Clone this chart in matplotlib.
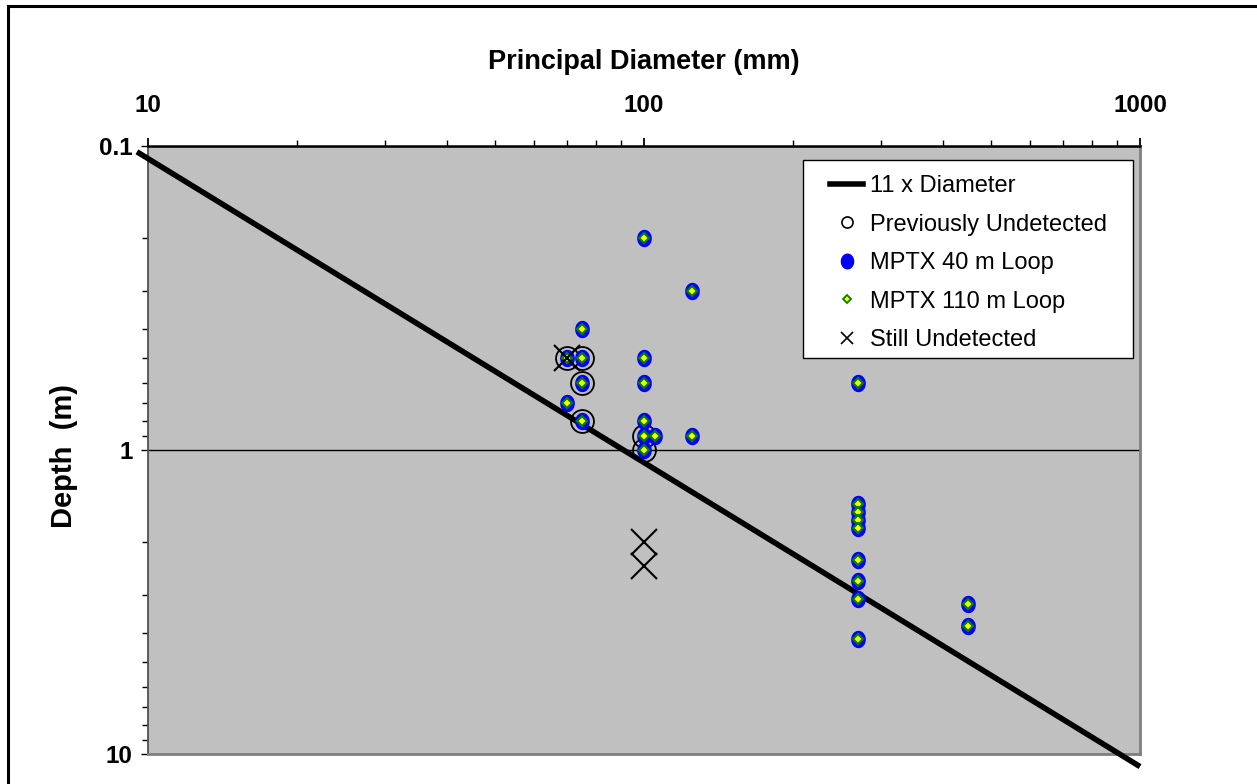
import numpy as np
import matplotlib
matplotlib.use("Agg")
import matplotlib.pyplot as plt
from matplotlib.path import Path
from matplotlib.lines import Line2D
from matplotlib.patches import Rectangle
from matplotlib.ticker import FixedLocator, FixedFormatter, LogLocator, NullFormatter

plt.rcParams['font.family'] = ['Liberation Sans', 'DejaVu Sans']

# detected targets: principal diameter (mm) and burial depth (m)
diam_40m = [75, 70, 75, 75, 70, 75, 100, 100, 100, 100, 100, 105, 100,
            125, 125, 270, 270, 270, 270, 270, 270, 270, 270, 270, 450, 450]
depth_40m = [0.4, 0.5, 0.5, 0.6, 0.7, 0.8, 0.2, 0.5, 0.6, 0.8, 0.9, 0.9, 1.0,
             0.3, 0.9, 0.6, 1.5, 1.6, 1.7, 1.8, 2.3, 2.7, 3.1, 4.2, 3.2, 3.8]
diam_110m = list(diam_40m)
depth_110m = list(depth_40m)

# targets missed by earlier surveys
diam_prev = [70, 75, 75, 75, 100, 100]
depth_prev = [0.5, 0.5, 0.6, 0.8, 0.9, 1.0]

# targets still not found
diam_still = [70, 100, 100]
depth_still = [0.5, 2.0, 2.4]

# 11 x diameter rule of thumb
diam_rule = np.array([9.5, 1000])
depth_rule = 11 * diam_rule / 1000

x_ticks = [10, 100, 1000]
y_ticks = [0.1, 1, 10]

fig = plt.figure(figsize=(12.57, 7.84), dpi=100)
ax = fig.add_axes([148 / 1257, 30 / 784, 992 / 1257, 608 / 784])
ax.set_facecolor('#C0C0C0')
ax.set_xscale('log')
ax.set_yscale('log')
ax.set_xlim(10, 1000)
ax.set_ylim(10, 0.1)

# slightly tall ellipse like the spreadsheet markers
t = np.linspace(0, 2 * np.pi, 61)
ellipse = Path(np.column_stack([0.83 * np.cos(t), np.sin(t)]), closed=True)

ax.plot(diam_rule, depth_rule, color='black', lw=4, zorder=3, clip_on=False,
        solid_capstyle='butt')
ax.plot(diam_prev, depth_prev, ls='none', marker='o', ms=16.5, mfc='none',
        mec='black', mew=1.3, zorder=4)
ax.plot(diam_40m, depth_40m, ls='none', marker=ellipse, ms=11.5, mfc='#0000FF',
        mec='#0000FF', zorder=5)
ax.plot(diam_110m, depth_110m, ls='none', marker='D', ms=4.6, mfc='#FFFF00',
        mec='#008000', mew=1.6, zorder=6)
ax.plot(diam_still, depth_still, ls='none', marker='x', ms=18.5, mec='black',
        mew=1.5, zorder=7)

# axes styling
ax.xaxis.tick_top()
ax.xaxis.set_major_locator(FixedLocator(x_ticks))
ax.xaxis.set_major_formatter(FixedFormatter([str(v) for v in x_ticks]))
ax.xaxis.set_minor_locator(LogLocator(base=10, subs=np.arange(2, 10)))
ax.xaxis.set_minor_formatter(NullFormatter())
ax.yaxis.set_major_locator(FixedLocator(y_ticks))
ax.yaxis.set_major_formatter(FixedFormatter(['%g' % v for v in y_ticks]))
ax.yaxis.set_minor_locator(LogLocator(base=10, subs=np.arange(2, 10)))
ax.yaxis.set_minor_formatter(NullFormatter())

ax.tick_params(axis='x', which='major', direction='out', length=6, width=1.3,
               pad=15, labelsize=17.5)
ax.tick_params(axis='x', which='minor', direction='out', length=4.5, width=1)
ax.tick_params(axis='y', which='major', direction='out', length=5, width=1,
               pad=6, labelsize=17.5)
ax.tick_params(axis='y', which='minor', direction='out', length=4, width=1)
for lab in ax.get_xticklabels() + ax.get_yticklabels():
    lab.set_fontweight('bold')

ax.yaxis.grid(True, which='major', color='black', lw=1)
ax.set_axisbelow(True)
ax.spines['top'].set_linewidth(1.8)
ax.spines['top'].set_color('black')
ax.spines['left'].set_color('#505050')
ax.spines['left'].set_linewidth(1.3)
for s in ['right', 'bottom']:
    ax.spines[s].set_color('#808080')
    ax.spines[s].set_linewidth(2)

ax.text(0.5, 1 + 84 / 608, 'Principal Diameter (mm)', transform=ax.transAxes,
        ha='center', va='center', fontsize=19.5, fontweight='bold')
ax.text(-84 / 992, 0.49, 'Depth  (m)', transform=ax.transAxes, rotation=90,
        ha='center', va='center', fontsize=21, fontweight='bold')

# legend
handles = [
    Line2D([], [], color='black', lw=4),
    Line2D([], [], ls='none', marker='o', ms=8, mfc='none', mec='black', mew=1.2),
    Line2D([], [], ls='none', marker=ellipse, ms=10.5, mfc='#0000FF', mec='#0000FF'),
    Line2D([], [], ls='none', marker='D', ms=4, mfc='#FFFF00', mec='#008000', mew=1.3),
    Line2D([], [], ls='none', marker='x', ms=8, mec='black', mew=1.2),
]
labels = ['11 x Diameter', 'Previously Undetected', 'MPTX 40 m Loop',
          'MPTX 110 m Loop', 'Still Undetected']
leg = ax.legend(handles, labels, loc='upper left',
                bbox_to_anchor=((830 - 148) / 992, 1 - (175 - 146) / 608),
                borderaxespad=0, borderpad=0, frameon=False, fontsize=17,
                handlelength=1.4, handletextpad=0.3, labelspacing=0.7)
leg.set_zorder(20)
ax.add_patch(Rectangle(((803 - 148) / 992, 1 - (358 - 146) / 608),
                       330 / 992, 198 / 608, transform=ax.transAxes,
                       facecolor='white', edgecolor='black', lw=1, zorder=19))

# outer chart border
fig.patches.append(Rectangle((7.5 / 1257, -0.2), 2, 1.2 - 5.5 / 784,
                             transform=fig.transFigure, fill=False,
                             edgecolor='black', lw=2.2))

fig.savefig('out.png', dpi=100)
